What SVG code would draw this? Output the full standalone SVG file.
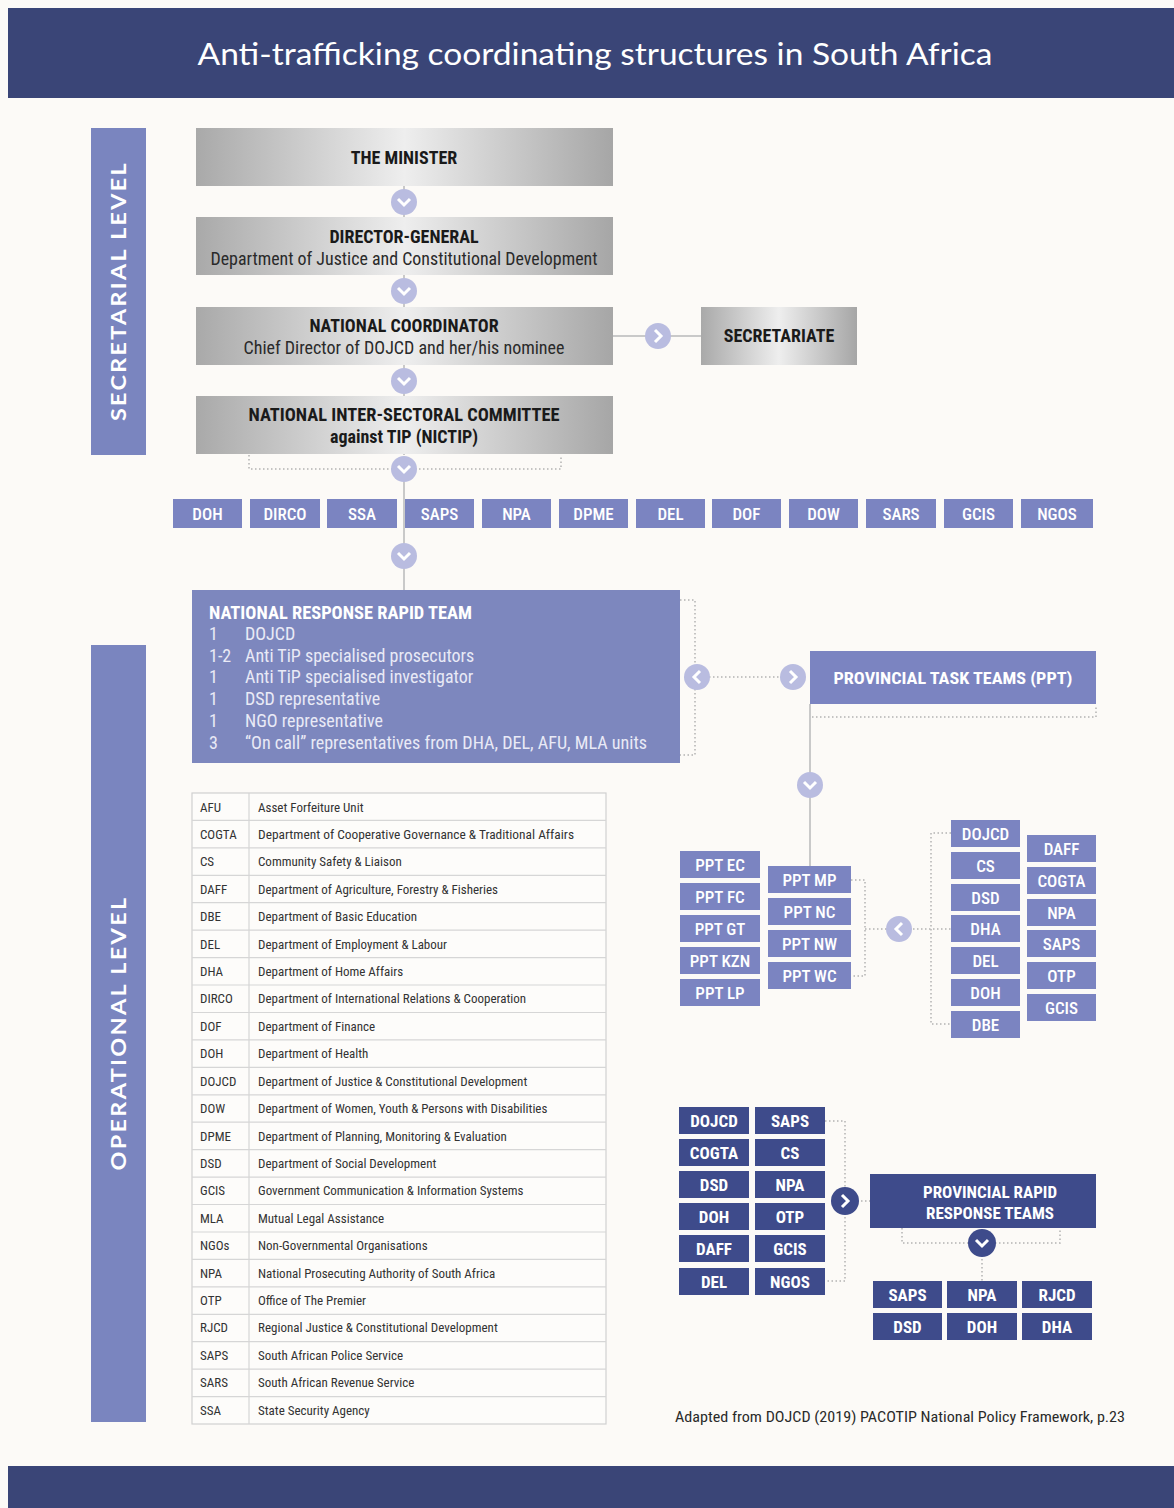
<svg xmlns="http://www.w3.org/2000/svg" xmlns:xlink="http://www.w3.org/1999/xlink" width="1174" height="1508" viewBox="0 0 1174 1508">
<style>
.cn{font-family:"Liberation Sans Narrow","Roboto Condensed","Liberation Sans",Arial,sans-serif}
.gs{font-family:Lato,"Open Sans","Liberation Sans",sans-serif}
.band{fill:#3a4577}
.side{fill:#7a85bf}
.pw{fill:#7b84c1}
.nv{fill:#3e4b8b}
.gray{fill:url(#gg)}
.wt{fill:#ffffff;font-weight:bold;font-size:17px;text-anchor:middle}
.wr{fill:#ffffff;font-weight:500;font-size:17px;text-anchor:middle}
.bk{fill:#1a1a1a;font-weight:bold;font-size:18px;text-anchor:middle}
.bks{fill:#2a2a2a;font-size:18px;text-anchor:middle}
.li{fill:#e9eaf6;font-size:18px}
.ta{fill:#333;font-size:13px}
.conn{stroke:#c9c9c9;stroke-width:2;fill:none}
.dot{stroke:#b3b3b3;stroke-width:1.5;stroke-dasharray:1.5 2.5;fill:none}
.row{stroke:#d6d6d6;stroke-width:1.2}
</style>
<defs>
<linearGradient id="gg" x1="0" y1="0" x2="1" y2="0">
<stop offset="0" stop-color="#a9a9a9"/>
<stop offset="0.5" stop-color="#eeeeee"/>
<stop offset="1" stop-color="#a6a6a6"/>
</linearGradient>
<g id="cdl"><circle r="13" fill="#b9bce0"/><polyline points="-6,-3 0,3 6,-3" stroke="#fff" stroke-width="3" fill="none"/></g>
<g id="crl"><circle r="13" fill="#b9bce0"/><polyline points="-3,-6 3,0 -3,6" stroke="#fff" stroke-width="3" fill="none"/></g>
<g id="cll"><circle r="13" fill="#b9bce0"/><polyline points="3,-6 -3,0 3,6" stroke="#fff" stroke-width="3" fill="none"/></g>
<g id="cdd"><circle r="14" fill="#3e4b8b"/><polyline points="-6,-3 0,3 6,-3" stroke="#fff" stroke-width="3" fill="none"/></g>
<g id="crd"><circle r="14" fill="#3e4b8b"/><polyline points="-3,-6 3,0 -3,6" stroke="#fff" stroke-width="3" fill="none"/></g>
</defs>
<rect width="1174" height="1508" fill="#fcfaf7"/>
<g id="header">
<rect class="band" x="8" y="8" width="1166" height="90"/>
<text class="gs" x="595" y="65" fill="#fff" font-size="30" text-anchor="middle" textLength="795" lengthAdjust="spacingAndGlyphs">Anti-trafficking coordinating structures in South Africa</text>
</g>
<g id="footer"><rect class="band" x="8" y="1466" width="1166" height="42"/></g>
<g id="secretarial-level">
<rect class="side" x="91" y="128" width="55" height="327"/>
<text class="gs" transform="translate(126,291) rotate(-90)" fill="#fff" font-size="20" font-weight="bold" text-anchor="middle" letter-spacing="2" textLength="260" lengthAdjust="spacingAndGlyphs">SECRETARIAL LEVEL</text>
</g>
<g id="operational-level">
<rect class="side" x="91" y="645" width="55" height="777"/>
<text class="gs" transform="translate(126,1033) rotate(-90)" fill="#fff" font-size="20" font-weight="bold" text-anchor="middle" letter-spacing="2" textLength="275" lengthAdjust="spacingAndGlyphs">OPERATIONAL LEVEL</text>
</g>

<g id="connectors">
<path class="conn" d="M404,186 V455"/>
<path class="conn" d="M613,336 H701"/>
<path class="dot" d="M249,455 V469 H561 V455"/>
<path class="conn" d="M404,469 V590"/>
<path class="dot" d="M680,600 H695 V755 H680"/>
<path class="dot" d="M697,677 H793"/>
<path class="dot" d="M810,707 V717 H1096 V707"/>
<path class="conn" d="M810,704 V866"/>
<path class="dot" d="M851,880 H865 V976 H851"/>
<path class="dot" d="M865,929 H951"/>
<path class="dot" d="M951,833 H931 V1024 H951"/>
<path class="dot" d="M825,1121 H845 V1281 H825"/>
<path class="dot" d="M845,1201 H870"/>
<path class="dot" d="M902,1228 V1243 H1060 V1228"/>
<path class="dot" d="M982,1243 V1281"/>
<use href="#cdl" x="404" y="202"/>
<use href="#cdl" x="404" y="291"/>
<use href="#cdl" x="404" y="381"/>
<use href="#cdl" x="404" y="469"/>
<use href="#crl" x="658" y="336"/>
<use href="#cdl" x="404" y="556"/>
<use href="#cll" x="697" y="677"/>
<use href="#crl" x="793" y="677"/>
<use href="#cdl" x="810" y="785"/>
<use href="#cll" x="899" y="929"/>
<use href="#crd" x="845" y="1201"/>
<use href="#cdd" x="982" y="1243"/>
</g>

<g id="minister">
<rect class="gray" x="196" y="128" width="417" height="58"/>
<text class="cn bk" x="404" y="164">THE MINISTER</text>
</g>
<g id="director-general">
<rect class="gray" x="196" y="217" width="417" height="58"/>
<text class="cn bk" x="404" y="243">DIRECTOR-GENERAL</text>
<text class="cn bks" x="404" y="265" textLength="387" lengthAdjust="spacingAndGlyphs">Department of Justice and Constitutional Development</text>
</g>
<g id="national-coordinator">
<rect class="gray" x="196" y="307" width="417" height="58"/>
<text class="cn bk" x="404" y="332">NATIONAL COORDINATOR</text>
<text class="cn bks" x="404" y="354" textLength="321" lengthAdjust="spacingAndGlyphs">Chief Director of DOJCD and her/his nominee</text>
</g>
<g id="secretariate">
<rect class="gray" x="701" y="307" width="156" height="58"/>
<text class="cn bk" x="779" y="342">SECRETARIATE</text>
</g>
<g id="nictip">
<rect class="gray" x="196" y="396" width="417" height="58"/>
<text class="cn bk" x="404" y="421" textLength="311" lengthAdjust="spacingAndGlyphs">NATIONAL INTER-SECTORAL COMMITTEE</text>
<text class="cn bk" x="404" y="443">against TIP (NICTIP)</text>
</g>

<g id="agencies" class="cn">
<g id="ag-doh"><rect class="pw" x="173" y="499" width="69" height="29"/><text class="wr" x="207.5" y="520">DOH</text></g>
<g id="ag-dirco"><rect class="pw" x="250" y="499" width="70" height="29"/><text class="wr" x="285" y="520">DIRCO</text></g>
<g id="ag-ssa"><rect class="pw" x="327" y="499" width="70" height="29"/><text class="wr" x="362" y="520">SSA</text></g>
<g id="ag-saps"><rect class="pw" x="405" y="499" width="69" height="29"/><text class="wr" x="439.5" y="520">SAPS</text></g>
<g id="ag-npa"><rect class="pw" x="482" y="499" width="69" height="29"/><text class="wr" x="516.5" y="520">NPA</text></g>
<g id="ag-dpme"><rect class="pw" x="559" y="499" width="69" height="29"/><text class="wr" x="593.5" y="520">DPME</text></g>
<g id="ag-del"><rect class="pw" x="636" y="499" width="69" height="29"/><text class="wr" x="670.5" y="520">DEL</text></g>
<g id="ag-dof"><rect class="pw" x="712" y="499" width="69" height="29"/><text class="wr" x="746.5" y="520">DOF</text></g>
<g id="ag-dow"><rect class="pw" x="789" y="499" width="69" height="29"/><text class="wr" x="823.5" y="520">DOW</text></g>
<g id="ag-sars"><rect class="pw" x="866" y="499" width="70" height="29"/><text class="wr" x="901" y="520">SARS</text></g>
<g id="ag-gcis"><rect class="pw" x="944" y="499" width="69" height="29"/><text class="wr" x="978.5" y="520">GCIS</text></g>
<g id="ag-ngos"><rect class="pw" x="1021" y="499" width="72" height="29"/><text class="wr" x="1057" y="520">NGOS</text></g>
</g>

<g id="nrrt" class="cn">
<rect x="192" y="590" width="488" height="173" fill="#7d87be"/>
<text x="209" y="619" fill="#fff" font-weight="bold" font-size="18" textLength="263" lengthAdjust="spacingAndGlyphs">NATIONAL RESPONSE RAPID TEAM</text>
<text class="li" x="209" y="640">1</text><text class="li" x="245" y="640">DOJCD</text>
<text class="li" x="209" y="662">1-2</text><text class="li" x="245" y="662">Anti TiP specialised prosecutors</text>
<text class="li" x="209" y="683">1</text><text class="li" x="245" y="683">Anti TiP specialised investigator</text>
<text class="li" x="209" y="705">1</text><text class="li" x="245" y="705">DSD representative</text>
<text class="li" x="209" y="727">1</text><text class="li" x="245" y="727">NGO representative</text>
<text class="li" x="209" y="749">3</text><text class="li" x="245" y="749" textLength="402" lengthAdjust="spacingAndGlyphs">“On call” representatives from DHA, DEL, AFU, MLA units</text>
</g>

<g id="ppt" class="cn">
<rect class="pw" x="810" y="651" width="286" height="53"/>
<text class="wt" x="953" y="684" font-size="18" textLength="239" lengthAdjust="spacingAndGlyphs">PROVINCIAL TASK TEAMS (PPT)</text>
</g>

<g id="ppt-provinces" class="cn">
<g id="ppt-ec"><rect class="pw" x="680" y="851" width="80" height="27"/><text class="wr" x="720" y="871">PPT EC</text></g>
<g id="ppt-fc"><rect class="pw" x="680" y="883" width="80" height="27"/><text class="wr" x="720" y="903">PPT FC</text></g>
<g id="ppt-gt"><rect class="pw" x="680" y="915" width="80" height="27"/><text class="wr" x="720" y="935">PPT GT</text></g>
<g id="ppt-kzn"><rect class="pw" x="680" y="947" width="80" height="27"/><text class="wr" x="720" y="967">PPT KZN</text></g>
<g id="ppt-lp"><rect class="pw" x="680" y="979" width="80" height="27"/><text class="wr" x="720" y="999">PPT LP</text></g>
<g id="ppt-mp"><rect class="pw" x="768" y="866" width="83" height="27"/><text class="wr" x="809.5" y="886">PPT MP</text></g>
<g id="ppt-nc"><rect class="pw" x="768" y="898" width="83" height="27"/><text class="wr" x="809.5" y="918">PPT NC</text></g>
<g id="ppt-nw"><rect class="pw" x="768" y="930" width="83" height="27"/><text class="wr" x="809.5" y="950">PPT NW</text></g>
<g id="ppt-wc"><rect class="pw" x="768" y="962" width="83" height="27"/><text class="wr" x="809.5" y="982">PPT WC</text></g>
</g>

<g id="ppt-members" class="cn">
<g id="pm-dojcd"><rect class="pw" x="951" y="820" width="69" height="27"/><text class="wr" x="985.5" y="840">DOJCD</text></g>
<g id="pm-cs"><rect class="pw" x="951" y="852" width="69" height="27"/><text class="wr" x="985.5" y="872">CS</text></g>
<g id="pm-dsd"><rect class="pw" x="951" y="884" width="69" height="27"/><text class="wr" x="985.5" y="904">DSD</text></g>
<g id="pm-dha"><rect class="pw" x="951" y="915" width="69" height="27"/><text class="wr" x="985.5" y="935">DHA</text></g>
<g id="pm-del"><rect class="pw" x="951" y="947" width="69" height="27"/><text class="wr" x="985.5" y="967">DEL</text></g>
<g id="pm-doh"><rect class="pw" x="951" y="979" width="69" height="27"/><text class="wr" x="985.5" y="999">DOH</text></g>
<g id="pm-dbe"><rect class="pw" x="951" y="1011" width="69" height="27"/><text class="wr" x="985.5" y="1031">DBE</text></g>
<g id="pm-daff"><rect class="pw" x="1027" y="835" width="69" height="27"/><text class="wr" x="1061.5" y="855">DAFF</text></g>
<g id="pm-cogta"><rect class="pw" x="1027" y="867" width="69" height="27"/><text class="wr" x="1061.5" y="887">COGTA</text></g>
<g id="pm-npa"><rect class="pw" x="1027" y="899" width="69" height="27"/><text class="wr" x="1061.5" y="919">NPA</text></g>
<g id="pm-saps"><rect class="pw" x="1027" y="930" width="69" height="27"/><text class="wr" x="1061.5" y="950">SAPS</text></g>
<g id="pm-otp"><rect class="pw" x="1027" y="962" width="69" height="27"/><text class="wr" x="1061.5" y="982">OTP</text></g>
<g id="pm-gcis"><rect class="pw" x="1027" y="994" width="69" height="27"/><text class="wr" x="1061.5" y="1014">GCIS</text></g>
</g>

<g id="prrt-members" class="cn">
<g id="pr-dojcd"><rect class="nv" x="679" y="1107" width="70" height="27"/><text class="wt" x="714" y="1127">DOJCD</text></g>
<g id="pr-cogta"><rect class="nv" x="679" y="1139" width="70" height="27"/><text class="wt" x="714" y="1159">COGTA</text></g>
<g id="pr-dsd"><rect class="nv" x="679" y="1171" width="70" height="27"/><text class="wt" x="714" y="1191">DSD</text></g>
<g id="pr-doh"><rect class="nv" x="679" y="1203" width="70" height="27"/><text class="wt" x="714" y="1223">DOH</text></g>
<g id="pr-daff"><rect class="nv" x="679" y="1235" width="70" height="27"/><text class="wt" x="714" y="1255">DAFF</text></g>
<g id="pr-del"><rect class="nv" x="679" y="1268" width="70" height="27"/><text class="wt" x="714" y="1288">DEL</text></g>
<g id="pr-saps"><rect class="nv" x="755" y="1107" width="70" height="27"/><text class="wt" x="790" y="1127">SAPS</text></g>
<g id="pr-cs"><rect class="nv" x="755" y="1139" width="70" height="27"/><text class="wt" x="790" y="1159">CS</text></g>
<g id="pr-npa"><rect class="nv" x="755" y="1171" width="70" height="27"/><text class="wt" x="790" y="1191">NPA</text></g>
<g id="pr-otp"><rect class="nv" x="755" y="1203" width="70" height="27"/><text class="wt" x="790" y="1223">OTP</text></g>
<g id="pr-gcis"><rect class="nv" x="755" y="1235" width="70" height="27"/><text class="wt" x="790" y="1255">GCIS</text></g>
<g id="pr-ngos"><rect class="nv" x="755" y="1268" width="70" height="27"/><text class="wt" x="790" y="1288">NGOS</text></g>
</g>

<g id="prrt" class="cn">
<rect class="nv" x="870" y="1174" width="226" height="54"/>
<text class="wt" x="990" y="1198" font-size="18">PROVINCIAL RAPID</text>
<text class="wt" x="990" y="1219" font-size="18">RESPONSE TEAMS</text>
</g>

<g id="prrt-core" class="cn">
<g id="pc-saps"><rect class="nv" x="873" y="1281" width="69" height="27"/><text class="wt" x="907.5" y="1301">SAPS</text></g>
<g id="pc-npa"><rect class="nv" x="947" y="1281" width="70" height="27"/><text class="wt" x="982" y="1301">NPA</text></g>
<g id="pc-rjcd"><rect class="nv" x="1022" y="1281" width="70" height="27"/><text class="wt" x="1057" y="1301">RJCD</text></g>
<g id="pc-dsd"><rect class="nv" x="873" y="1313" width="69" height="27"/><text class="wt" x="907.5" y="1333">DSD</text></g>
<g id="pc-doh"><rect class="nv" x="947" y="1313" width="70" height="27"/><text class="wt" x="982" y="1333">DOH</text></g>
<g id="pc-dha"><rect class="nv" x="1022" y="1313" width="70" height="27"/><text class="wt" x="1057" y="1333">DHA</text></g>
</g>

<g id="glossary" class="cn">
<rect x="192" y="793" width="414" height="631" fill="#fdfcfa" stroke="#d0d0d0" stroke-width="1.2"/>
<line class="row" x1="249" y1="793" x2="249" y2="1424"/>
<g class="row">
<line x1="192" y1="820.4" x2="606" y2="820.4"/><line x1="192" y1="847.9" x2="606" y2="847.9"/><line x1="192" y1="875.3" x2="606" y2="875.3"/><line x1="192" y1="902.7" x2="606" y2="902.7"/><line x1="192" y1="930.2" x2="606" y2="930.2"/><line x1="192" y1="957.6" x2="606" y2="957.6"/><line x1="192" y1="985" x2="606" y2="985"/><line x1="192" y1="1012.5" x2="606" y2="1012.5"/><line x1="192" y1="1039.9" x2="606" y2="1039.9"/><line x1="192" y1="1067.3" x2="606" y2="1067.3"/><line x1="192" y1="1094.8" x2="606" y2="1094.8"/><line x1="192" y1="1122.2" x2="606" y2="1122.2"/><line x1="192" y1="1149.7" x2="606" y2="1149.7"/><line x1="192" y1="1177.1" x2="606" y2="1177.1"/><line x1="192" y1="1204.5" x2="606" y2="1204.5"/><line x1="192" y1="1232" x2="606" y2="1232"/><line x1="192" y1="1259.4" x2="606" y2="1259.4"/><line x1="192" y1="1286.8" x2="606" y2="1286.8"/><line x1="192" y1="1314.3" x2="606" y2="1314.3"/><line x1="192" y1="1341.7" x2="606" y2="1341.7"/><line x1="192" y1="1369.1" x2="606" y2="1369.1"/><line x1="192" y1="1396.6" x2="606" y2="1396.6"/>
</g>
<g class="ta">
<text x="200" y="812">AFU</text><text x="258" y="812">Asset Forfeiture Unit</text>
<text x="200" y="839">COGTA</text><text x="258" y="839" textLength="316" lengthAdjust="spacingAndGlyphs">Department of Cooperative Governance &amp; Traditional Affairs</text>
<text x="200" y="866">CS</text><text x="258" y="866">Community Safety &amp; Liaison</text>
<text x="200" y="894">DAFF</text><text x="258" y="894">Department of Agriculture, Forestry &amp; Fisheries</text>
<text x="200" y="921">DBE</text><text x="258" y="921">Department of Basic Education</text>
<text x="200" y="949">DEL</text><text x="258" y="949">Department of Employment &amp; Labour</text>
<text x="200" y="976">DHA</text><text x="258" y="976">Department of Home Affairs</text>
<text x="200" y="1003">DIRCO</text><text x="258" y="1003">Department of International Relations &amp; Cooperation</text>
<text x="200" y="1031">DOF</text><text x="258" y="1031">Department of Finance</text>
<text x="200" y="1058">DOH</text><text x="258" y="1058">Department of Health</text>
<text x="200" y="1086">DOJCD</text><text x="258" y="1086">Department of Justice &amp; Constitutional Development</text>
<text x="200" y="1113">DOW</text><text x="258" y="1113">Department of Women, Youth &amp; Persons with Disabilities</text>
<text x="200" y="1141">DPME</text><text x="258" y="1141">Department of Planning, Monitoring &amp; Evaluation</text>
<text x="200" y="1168">DSD</text><text x="258" y="1168">Department of Social Development</text>
<text x="200" y="1195">GCIS</text><text x="258" y="1195">Government Communication &amp; Information Systems</text>
<text x="200" y="1223">MLA</text><text x="258" y="1223">Mutual Legal Assistance</text>
<text x="200" y="1250">NGOs</text><text x="258" y="1250">Non-Governmental Organisations</text>
<text x="200" y="1278">NPA</text><text x="258" y="1278">National Prosecuting Authority of South Africa</text>
<text x="200" y="1305">OTP</text><text x="258" y="1305">Office of The Premier</text>
<text x="200" y="1332">RJCD</text><text x="258" y="1332">Regional Justice &amp; Constitutional Development</text>
<text x="200" y="1360">SAPS</text><text x="258" y="1360">South African Police Service</text>
<text x="200" y="1387">SARS</text><text x="258" y="1387">South African Revenue Service</text>
<text x="200" y="1415">SSA</text><text x="258" y="1415">State Security Agency</text>
</g>
</g>

<g id="source">
<text class="cn" x="675" y="1422" fill="#2a2a2a" font-size="15" textLength="450" lengthAdjust="spacingAndGlyphs">Adapted from DOJCD (2019) PACOTIP National Policy Framework, p.23</text>
</g>
</svg>
